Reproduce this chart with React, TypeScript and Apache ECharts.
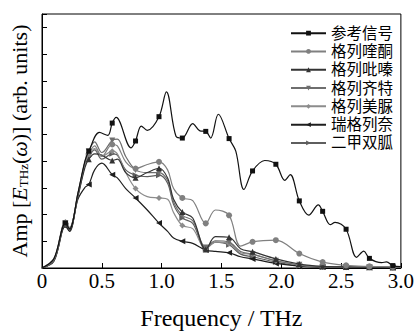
import React, { useEffect, useRef } from "react";
import * as echarts from "echarts";

// ---------- data ----------
const seriesNames = ["参考信号", "格列喹酮", "格列吡嗪", "格列齐特", "格列美脲", "瑞格列奈", "二甲双胍"];

const refX = [0, 0.1, 0.196, 0.23, 0.3, 0.36, 0.391, 0.48, 0.55, 0.587, 0.62, 0.745, 0.782, 0.83, 0.88, 0.978, 1.04, 1.12, 1.173, 1.26, 1.32, 1.369, 1.41, 1.474, 1.564, 1.62, 1.688, 1.76, 1.862, 1.955, 2.03, 2.075, 2.151, 2.23, 2.31, 2.346, 2.41, 2.45, 2.542, 2.63, 2.69, 2.737, 2.84, 2.88, 2.933, 3.0];
const refY = [0, 0.35, 1.68, 1.46, 2.79, 4.02, 4.37, 5.07, 4.96, 5.42, 5.63, 4.49, 4.75, 5.31, 5.15, 5.66, 6.59, 4.93, 4.86, 5.4, 5.13, 5.11, 4.86, 5.75, 4.84, 4.37, 2.94, 3.63, 4.02, 3.88, 3.28, 3.49, 2.51, 1.98, 2.36, 2.12, 1.62, 1.71, 1.45, 0.4, 0.63, 0.36, 0.2, 0.23, 0.09, 0.05];

const sampleX = [0, 0.1, 0.196, 0.23, 0.3, 0.36, 0.391, 0.44, 0.5, 0.587, 0.63, 0.7, 0.782, 0.88, 0.978, 1.05, 1.1, 1.173, 1.26, 1.369, 1.45, 1.564, 1.66, 1.76, 1.955, 2.151, 2.346, 2.542, 2.737, 2.933, 3.0];
const gliquidoneY = [0, 0.3, 1.67, 1.47, 2.77, 3.97, 4.27, 4.57, 4.17, 4.62, 4.57, 3.97, 3.72, 3.87, 3.97, 3.67, 2.97, 2.62, 2.52, 1.67, 2.17, 1.97, 0.82, 0.98, 1.04, 0.54, 0.22, 0.1, 0.06, 0.04, 0.03];
const glipizideY = [0, 0.25, 1.62, 1.42, 2.67, 3.77, 4.07, 4.27, 4.22, 4.02, 4.07, 3.57, 3.38, 3.57, 3.73, 3.37, 2.57, 2.09, 1.87, 0.69, 1.17, 1.15, 0.72, 0.61, 0.34, 0.15, 0.06, 0.04, 0.03, 0.02, 0.02];
const gliclazideY = [0, 0.3, 1.67, 1.47, 2.77, 3.97, 4.37, 4.72, 4.32, 4.77, 4.82, 4.17, 3.67, 3.57, 3.57, 3.27, 2.47, 1.97, 1.77, 0.77, 1.02, 0.97, 0.62, 0.52, 0.27, 0.12, 0.05, 0.03, 0.03, 0.02, 0.02];
const glimepirideY = [0, 0.35, 1.72, 1.52, 2.67, 3.87, 4.17, 4.47, 4.17, 4.37, 4.27, 3.57, 2.97, 2.67, 2.62, 2.57, 2.07, 1.59, 1.47, 0.72, 0.97, 0.92, 0.57, 0.51, 0.27, 0.1, 0.05, 0.03, 0.03, 0.02, 0.02];
const repaglinideY = [0, 0.28, 1.57, 1.37, 2.57, 3.02, 3.12, 3.67, 3.92, 3.49, 3.37, 2.97, 2.62, 2.17, 1.68, 1.37, 1.12, 1.0, 0.92, 0.67, 0.62, 0.57, 0.42, 0.34, 0.17, 0.07, 0.04, 0.03, 0.02, 0.02, 0.02];
const metforminY = [0, 0.3, 1.67, 1.47, 2.72, 3.87, 4.17, 4.42, 4.07, 4.27, 4.22, 3.67, 3.47, 3.42, 3.47, 3.17, 2.37, 1.87, 1.67, 0.72, 0.97, 0.87, 0.52, 0.42, 0.22, 0.08, 0.04, 0.03, 0.02, 0.02, 0.02];

const xTicks = [0, 0.5, 1.0, 1.5, 2.0, 2.5, 3.0];

// ---------- styles ----------
const MARKER_STEP = 0.1955;
const styles = [
  { color: "#111111", symbol: "rect", rotate: 0 },
  { color: "#808080", symbol: "circle", rotate: 0 },
  { color: "#333333", symbol: "triangle", rotate: 0 },
  { color: "#6e6e6e", symbol: "triangle", rotate: 180 },
  { color: "#8c8c8c", symbol: "diamond", rotate: 0 },
  { color: "#1e1e1e", symbol: "triangle", rotate: 90 },
  { color: "#5e5e5e", symbol: "triangle", rotate: -90 },
];

const isMarker = (x: number) => {
  if (x < 0.1) return false;
  const k = Math.round(x / MARKER_STEP);
  return Math.abs(k * MARKER_STEP - x) < 0.003;
};

const zip = (xs: number[], ys: number[]) => xs.map((x, i) => [x, ys[i]]);

export default function App() {
  const ref = useRef<HTMLDivElement>(null);
  useEffect(() => {
    if (!ref.current) return;
    const chart = echarts.init(ref.current, null, { renderer: "svg" });
    const ys = [refY, gliquidoneY, glipizideY, gliclazideY, glimepirideY, repaglinideY, metforminY];
    const series = seriesNames.map((name, i) => ({
      name,
      type: "line",
      data: zip(i === 0 ? refX : sampleX, ys[i]),
      smooth: 0.35,
      showSymbol: true,
      showAllSymbol: true,
      symbol: styles[i].symbol,
      symbolRotate: styles[i].rotate,
      symbolSize: (v: number[]) => (isMarker(v[0]) ? (styles[i].symbol === "rect" ? 5 : 6) : 0),
      lineStyle: { color: styles[i].color, width: 1.2 },
      itemStyle: { color: styles[i].color },
      z: 10 - i,
    }));
    const serif = "'Liberation Serif', 'Times New Roman', serif";
    chart.setOption({
      animation: false,
      grid: { left: 42, top: 14, right: 14, bottom: 50.5, show: true, borderColor: "#000", borderWidth: 1 },
      legend: {
        orient: "vertical",
        left: 285,
        top: 19,
        itemWidth: 35,
        itemHeight: 6,
        itemGap: 0,
        data: seriesNames,
        textStyle: { fontFamily: "'Liberation Serif', 'Noto Sans CJK SC'", fontSize: 15.5, lineHeight: 18.3, color: "#000" },
      },
      xAxis: {
        type: "value",
        min: 0,
        max: 3,
        interval: 0.5,
        name: "Frequency / THz",
        nameLocation: "middle",
        nameGap: 38,
        nameTextStyle: { fontFamily: serif, fontSize: 24, color: "#000" },
        axisLine: { lineStyle: { color: "#000", width: 1 } },
        axisTick: { inside: true, length: 5, lineStyle: { color: "#000" } },
        axisLabel: {
          fontFamily: serif,
          fontSize: 21,
          color: "#000",
          margin: 2,
          formatter: (v: number) => (xTicks.indexOf(v) >= 0 ? (v === 0 ? "0" : v.toFixed(1)) : ""),
        },
        splitLine: { show: false },
      },
      yAxis: {
        type: "value",
        min: 0,
        max: 9.5,
        interval: 1,
        name: "Amp [{e|E}{s|THz}({w|ω})] (arb. units)",
        nameLocation: "middle",
        nameGap: 12,
        nameTextStyle: {
          fontFamily: serif,
          fontSize: 22,
          color: "#000",
          rich: {
            e: { fontFamily: serif, fontSize: 22, fontStyle: "italic", color: "#000" },
            s: { fontFamily: serif, fontSize: 13, color: "#000", verticalAlign: "bottom", padding: [9, 0, 0, 0] },
            w: { fontFamily: serif, fontSize: 22, fontStyle: "italic", color: "#000" },
          },
        },
        axisLine: { lineStyle: { color: "#000", width: 1 } },
        axisTick: { inside: true, length: 5, lineStyle: { color: "#000" } },
        axisLabel: { show: false },
        splitLine: { show: false },
      },
      series,
    });
    return () => chart.dispose();
  }, []);
  return <div ref={ref} style={{ width: 417, height: 335, position: "absolute", left: 0, top: 0 }} />;
}
